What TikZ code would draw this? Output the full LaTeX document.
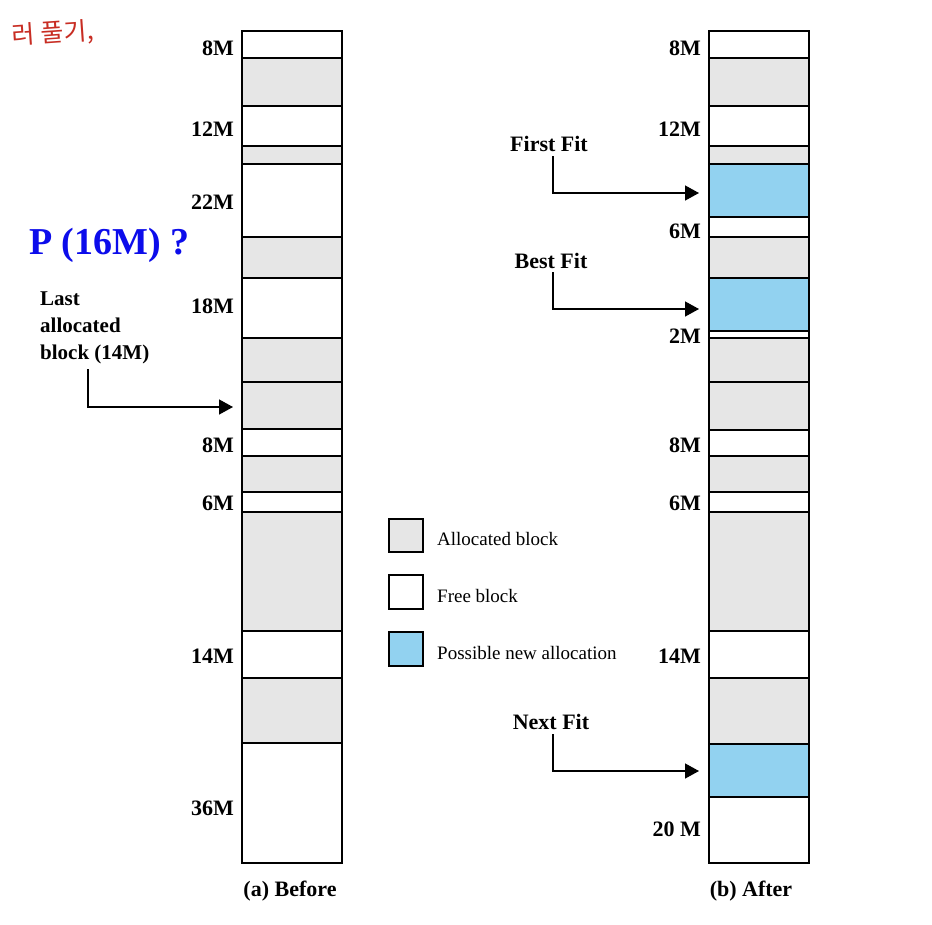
\documentclass[tikz,border=0pt]{standalone}
\usepackage{fontspec}
\setmainfont{Liberation Serif}
\newfontfamily\kofont{Noto Sans CJK KR}
\usetikzlibrary{arrows.meta}
\definecolor{allocgray}{RGB}{230,230,230}
\definecolor{newblue}{RGB}{146,210,240}
\definecolor{penred}{RGB}{200,45,35}
\definecolor{qblue}{RGB}{12,12,235}
\begin{document}
\begin{tikzpicture}[x=1pt,y=-1pt,
  free/.style={draw=black,line width=1.6pt,fill=white},
  alloc/.style={draw=black,line width=1.6pt,fill=allocgray},
  newal/.style={draw=black,line width=1.6pt,fill=newblue},
  sizelbl/.style={anchor=east,inner sep=0pt,font=\fontsize{22}{26}\selectfont\bfseries},
  fitlbl/.style={anchor=center,inner sep=0pt,font=\fontsize{22}{26}\selectfont\bfseries},
  legtxt/.style={anchor=west,inner sep=0pt,font=\fontsize{19}{23}\selectfont},
  ptr/.style={line width=1.4pt,-{Triangle[length=14pt,width=15pt]}}]
\useasboundingbox (0,0) rectangle (932,924);
\fill[white] (0,0) rectangle (932,924);

% handwritten note
\node[anchor=west,inner sep=0pt,text=penred,rotate=4,font=\kofont\fontsize{25}{28}\selectfont] (note) at (12,37) {러 풀기,};

% ---- left column (Before)
\draw[free]  (242,31)  rectangle (342,58);
\draw[alloc] (242,58)  rectangle (342,106);
\draw[free]  (242,106) rectangle (342,146);
\draw[alloc] (242,146) rectangle (342,164);
\draw[free]  (242,164) rectangle (342,237);
\draw[alloc] (242,237) rectangle (342,278);
\draw[free]  (242,278) rectangle (342,338);
\draw[alloc] (242,338) rectangle (342,382);
\draw[alloc] (242,382) rectangle (342,429);
\draw[free]  (242,429) rectangle (342,456);
\draw[alloc] (242,456) rectangle (342,492);
\draw[free]  (242,492) rectangle (342,512);
\draw[alloc] (242,512) rectangle (342,631);
\draw[free]  (242,631) rectangle (342,678);
\draw[alloc] (242,678) rectangle (342,743);
\draw[free]  (242,743) rectangle (342,863);

\node[sizelbl] (l8a)  at (234,48)  {8M};
\node[sizelbl] (l12a) at (234,129) {12M};
\node[sizelbl] (l22a) at (234,202) {22M};
\node[sizelbl] (l18a) at (234,306) {18M};
\node[sizelbl] (l8b)  at (234,445) {8M};
\node[sizelbl] (l6a)  at (234,503) {6M};
\node[sizelbl] (l14a) at (234,656) {14M};
\node[sizelbl] (l36a) at (234,808) {36M};

% ---- right column (After)
\draw[free]  (709,31)  rectangle (809,58);
\draw[alloc] (709,58)  rectangle (809,106);
\draw[free]  (709,106) rectangle (809,146);
\draw[alloc] (709,146) rectangle (809,164);
\draw[newal] (709,164) rectangle (809,217);
\draw[free]  (709,217) rectangle (809,237);
\draw[alloc] (709,237) rectangle (809,278);
\draw[newal] (709,278) rectangle (809,331);
\draw[free]  (709,331) rectangle (809,338);
\draw[alloc] (709,338) rectangle (809,382);
\draw[alloc] (709,382) rectangle (809,430);
\draw[free]  (709,430) rectangle (809,456);
\draw[alloc] (709,456) rectangle (809,492);
\draw[free]  (709,492) rectangle (809,512);
\draw[alloc] (709,512) rectangle (809,631);
\draw[free]  (709,631) rectangle (809,678);
\draw[alloc] (709,678) rectangle (809,744);
\draw[newal] (709,744) rectangle (809,797);
\draw[free]  (709,797) rectangle (809,863);

\node[sizelbl] (r8a)  at (701,48)  {8M};
\node[sizelbl] (r12a) at (701,129) {12M};
\node[sizelbl] (r6a)  at (701,231) {6M};
\node[sizelbl] (r2a)  at (701,336) {2M};
\node[sizelbl] (r8b)  at (701,445) {8M};
\node[sizelbl] (r6b)  at (701,503) {6M};
\node[sizelbl] (r14a) at (701,656) {14M};
\node[sizelbl] (r20a) at (701,829) {20 M};

% ---- question and last allocated pointer
\node[anchor=west,inner sep=0pt,text=qblue,font=\fontsize{38}{40}\selectfont\bfseries] (q) at (29,245) {P (16M) ?};
\node[anchor=west,inner sep=0pt,align=left,font=\fontsize{21}{27}\selectfont\bfseries] (last) at (40,328) {Last\\allocated\\block (14M)};
\coordinate (lastA) at (88,369);
\coordinate (lastB) at (233,407);
\draw[ptr] (lastA) |- (lastB);

% ---- fit pointers
\node[fitlbl] (ff) at (549,144) {First Fit};
\node[fitlbl] (bf) at (551,261) {Best Fit};
\node[fitlbl] (nf) at (551,722) {Next Fit};
\coordinate (ffA) at (553,156);
\coordinate (ffB) at (699,193);
\coordinate (bfA) at (553,272);
\coordinate (bfB) at (699,309);
\coordinate (nfA) at (553,734);
\coordinate (nfB) at (699,771);
\draw[ptr] (ffA) |- (ffB);
\draw[ptr] (bfA) |- (bfB);
\draw[ptr] (nfA) |- (nfB);

% ---- legend
\draw[alloc] (389,519) rectangle (423,552);
\draw[free]  (389,575) rectangle (423,609);
\draw[newal] (389,632) rectangle (423,666);
\node[legtxt] (lg1) at (437,539) {Allocated block};
\node[legtxt] (lg2) at (437,596) {Free block};
\node[legtxt] (lg3) at (437,653) {Possible new allocation};

% ---- captions
\node[fitlbl] (capa) at (290,891) {(a) Before};
\node[fitlbl] (capb) at (751,891) {(b) After};
\end{tikzpicture}
\end{document}
